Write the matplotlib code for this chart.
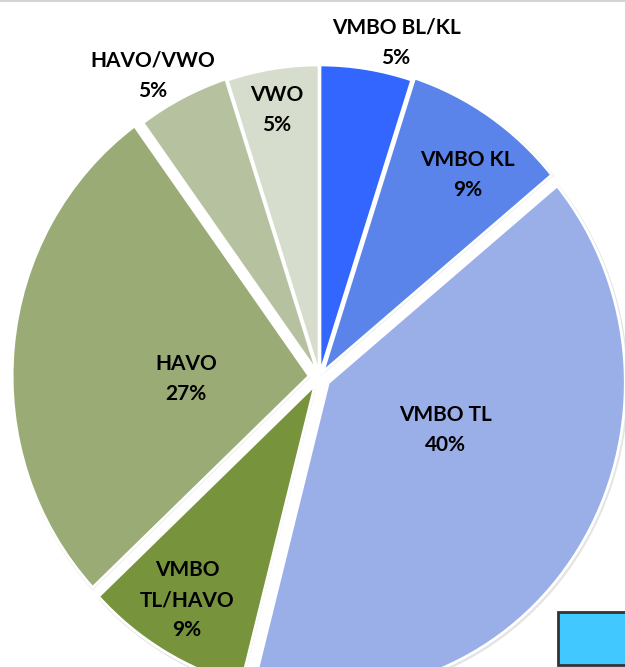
import matplotlib.pyplot as plt
from matplotlib.patches import Rectangle
from matplotlib.lines import Line2D

# Data (clockwise from top)
labels = ['VMBO BL/KL', 'VMBO KL', 'VMBO TL', 'VMBO\nTL/HAVO', 'HAVO', 'HAVO/VWO', 'VWO']
percents = [5, 9, 40, 9, 27, 5, 5]
colors = ['#3366FF', '#5B84EB', '#9AAEE8', '#77933C', '#9BAB76', '#B6C29F', '#D7DDCC']
explode = [0.01, 0.02, 0.035, 0.03, 0.035, 0.015, 0.01]

# label block centres, in pie radius units
label_pos = [(0.258, 1.083), (0.499, 0.654), (0.423, -0.172), (-0.446, -0.722),
             (-0.450, -0.006), (-0.561, 0.976), (-0.143, 0.864)]

W, H = 625, 667
# pie centre and (slightly stretched) radii in pixels
cx, cy, rx, ry = 319.5, 377, 297, 309

fig = plt.figure(figsize=(W / 100, H / 100), dpi=100)
ax = fig.add_axes([0, 0, 1, 1])

# soft shadow
shadow, _ = ax.pie(percents, explode=explode, startangle=90, counterclock=False,
                   colors=['#cfcfcf'] * len(percents), radius=1.006,
                   center=(0.004, -0.005), frame=True)
for w in shadow:
    w.set_alpha(0.55)
    w.set_zorder(1)

wedges, _ = ax.pie(percents, explode=explode, startangle=90, counterclock=False,
                   colors=colors, frame=True,
                   wedgeprops=dict(edgecolor='white', linewidth=2))
for w in wedges:
    w.set_zorder(2)

ax.set_aspect('auto')
ax.set_xlim(-cx / rx, (W - cx) / rx)
ax.set_ylim((cy - H) / ry, cy / ry)
ax.axis('off')

for name, p, (x, y) in zip(labels, percents, label_pos):
    ax.text(x, y, f'{name}\n{p}%', ha='center', va='center', fontsize=15,
            fontweight='bold', family='Lato', linespacing=1.65, zorder=5)

# top border line and clipped legend box
fig.add_artist(Line2D([0, 1], [0.998, 0.998], color='#d4d4d4', lw=1.5))
fig.add_artist(Rectangle((558 / W, 2 / H), 0.2, 53 / H, transform=fig.transFigure,
                         facecolor='#40C8FF', edgecolor='#333333', lw=2))

fig.savefig('out.png', dpi=100)
